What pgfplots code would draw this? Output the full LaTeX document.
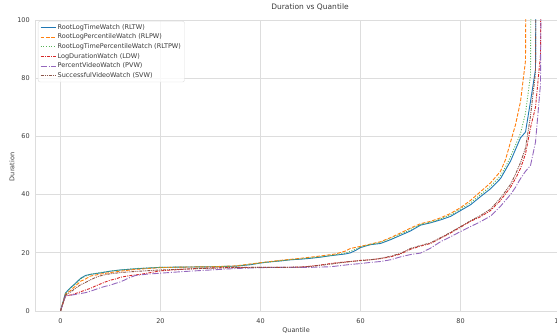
\documentclass[border=0pt]{standalone}
\usepackage{pgfplots}
\pgfplotsset{compat=1.18}
\usepackage{fontspec}
\setmainfont{DejaVu Sans}
\definecolor{gridc}{HTML}{DDDDDD}
\definecolor{txt}{HTML}{3A3A3A}
\definecolor{c1}{HTML}{1F77B4}
\definecolor{c2}{HTML}{FF7F0E}
\definecolor{c3}{HTML}{2CA02C}
\definecolor{c4}{HTML}{D62728}
\definecolor{c5}{HTML}{9467BD}
\definecolor{c6}{HTML}{8C564B}
\begin{document}
\begin{tikzpicture}
\begin{axis}[
  scale only axis, width=544.5pt, height=291pt,
  xmin=-4.95, xmax=103.95, ymin=0, ymax=100,
  xtick={0,20,...,100}, ytick={0,20,...,100},
  grid=major, major grid style={color=gridc, line width=0.6pt},
  axis line style={color=gridc, line width=0.6pt},
  major tick length=0pt,
  /pgf/number format/assume math mode=true,
  tick label style={font=\fontsize{6.5}{7}\selectfont, color=txt},
  xticklabel style={yshift=-4.3pt},
  yticklabel style={xshift=-2.5pt},
  title={Duration vs Quantile},
  title style={at={(axis description cs:0.5037,1.024)}, anchor=center, font=\fontsize{7.5}{8}\selectfont, color=txt},
  xlabel={Quantile},
  x label style={at={(axis description cs:0.478,-0.0653)}, anchor=center, font=\fontsize{6.5}{7}\selectfont, color=txt},
  ylabel={Duration},
  y label style={at={(axis description cs:-0.0436,0.495)}, anchor=center, rotate=0, font=\fontsize{6.5}{7}\selectfont, color=txt},
  legend cell align=left,
  legend image code/.code={\draw[#1] (0pt,0pt) -- (15pt,0pt);},
  legend style={at={(axis description cs:0.004,0.9966)}, anchor=north west,
    draw=gridc, rounded corners=2pt, fill=white, fill opacity=0.8, text opacity=1,
    font=\fontsize{6.5}{7}\selectfont, text=txt,
    nodes={inner sep=1.6pt}, row sep=0pt, inner xsep=2pt, inner ysep=1.5pt},
  every axis plot/.append style={line width=0.9pt},
]
\addplot[c1, solid] coordinates {
(0,0) (1,6.2) (2,8.0) (3,9.5) (4,11.2) (5,12.2) (6,12.6) (8,13.1) (10,13.7) (12,14.1)
(15,14.5) (18,14.8) (20,15.0) (25,15.1) (30,15.2) (35,15.4) (38,15.9) (40,16.5) (42,16.9)
(44,17.2) (46,17.6) (48,17.8) (50,18.1) (52,18.5) (54,19.0) (56,19.4) (57,19.6) (58,20.0)
(59,20.8) (60,21.8) (62,22.8) (64,23.2) (66,24.5) (68,26.0) (70,27.5) (72,29.5) (74,30.3)
(76,31.3) (78,32.5) (80,34.5) (82,36.5) (84,39.3) (86,42.0) (88,45.5) (89,48.5) (90,51.5)
(91,55.5) (92,59.5) (93,61.5) (94,72) (95,83) (96,400)
};
\addlegendentry{RootLogTimeWatch (RLTW)}
\addplot[c2, dash pattern=on 3.7pt off 1.6pt] coordinates {
(0,0) (1,5.8) (2,7.0) (3,8.6) (4,10.2) (5,11.0) (6,12.0) (8,12.7) (10,13.2) (12,13.7)
(15,14.3) (20,14.9) (25,15.1) (30,15.2) (35,15.5) (40,16.6) (44,17.4) (48,18.1) (52,18.9)
(55,19.6) (57,20.6) (58,21.5) (60,22.2) (62,23.0) (64,23.8) (66,25.2) (68,26.8) (70,28.5)
(72,30.0) (74,30.8) (76,32.0) (78,33.5) (80,35.5) (82,38.0) (84,41.0) (86,44.0) (88,48.0)
(89,52.0) (90,58.0) (91,64) (92,72) (93,86) (94,400)
};
\addlegendentry{RootLogPercentileWatch (RLPW)}
\addplot[c3!80!white, dash pattern=on 1pt off 1.65pt] coordinates {
(0,0) (1,6.0) (2,7.8) (3,9.3) (4,11.0) (5,12.0) (6,12.6) (8,13.2) (10,13.7) (12,14.1)
(15,14.6) (20,15.0) (25,15.1) (30,15.2) (35,15.4) (40,16.5) (44,17.3) (48,17.9) (52,18.6)
(55,19.3) (57,19.9) (58,20.5) (60,21.9) (62,22.9) (64,23.5) (66,24.8) (68,26.4) (70,28.0)
(72,29.7) (74,30.5) (76,31.6) (78,33.0) (80,35.0) (82,37.2) (84,40.0) (86,42.8) (88,46.5)
(89,49.5) (90,53) (91,57) (92,61) (93,68) (94,81) (95,400)
};
\addlegendentry{RootLogTimePercentileWatch (RLTPW)}
\addplot[c4, dash pattern=on 3pt off 1.2pt on 1pt off 1.2pt] coordinates {
(0,0) (1,5.2) (2,5.5) (3,6.0) (4,6.6) (5,7.2) (6,7.8) (7,8.6) (8,9.3) (9,10.0) (10,10.6)
(11,11.0) (12,11.6) (14,12.2) (16,12.6) (18,13.2) (20,13.8) (25,14.4) (30,14.8) (35,15.0)
(40,15.0) (45,15.0) (48,15.1) (50,15.4) (52,15.8) (54,16.3) (56,16.7) (58,17.0) (60,17.4)
(62,17.6) (64,18.0) (66,18.6) (68,19.6) (70,21.2) (72,22.3) (74,23.2) (76,25.0) (78,26.8)
(80,28.8) (82,30.8) (84,32.4) (86,34.5) (88,38.0) (90,42.5) (91,45.5) (92,49.0) (93,54.0)
(94,63) (95,70) (96,88) (97,400)
};
\addlegendentry{LogDurationWatch (LDW)}
\addplot[c5, dash pattern=on 6.4pt off 1.6pt on 1pt off 1.6pt] coordinates {
(0,0) (1,5.2) (2,5.4) (3,5.7) (4,6.0) (5,6.3) (6,6.8) (7,7.4) (8,8.0) (9,8.5) (10,8.9)
(11,9.5) (12,10.0) (13,10.8) (14,11.6) (15,12.2) (17,12.6) (20,13.0) (25,13.6) (30,14.1)
(35,14.6) (40,14.9) (45,15.0) (50,15.0) (52,15.1) (54,15.2) (56,15.6) (58,16.0) (60,16.3)
(62,16.7) (64,17.0) (66,17.6) (68,18.6) (70,19.4) (72,19.9) (74,21.6) (76,23.8) (78,25.5)
(80,27.3) (82,29.0) (84,30.7) (86,32.6) (88,36.0) (90,40.0) (91,42.5) (92,45.5) (93,48)
(94,50) (95,58) (96,78) (97,400)
};
\addlegendentry{PercentVideoWatch (PVW)}
\addplot[c6, dash pattern=on 3pt off 1pt on 1pt off 1pt on 1pt off 1pt] coordinates {
(0,0) (1,5.5) (2,6.5) (3,7.8) (4,9.0) (5,9.8) (6,10.7) (7,11.5) (8,12.1) (9,12.5) (10,12.8)
(12,13.2) (15,13.6) (20,14.1) (25,14.4) (30,14.7) (35,14.9) (40,15.0) (45,15.0) (48,15.1)
(50,15.3) (52,15.7) (54,16.1) (56,16.6) (58,17.0) (60,17.3) (62,17.6) (64,18.1) (66,18.8)
(68,19.8) (70,21.5) (72,22.5) (74,23.4) (76,25.2) (78,27.0) (80,29.0) (82,31.0) (84,32.8)
(86,35.0) (88,38.8) (90,43.5) (91,47) (92,51) (93,56) (94,67) (95,82) (96,400)
};
\addlegendentry{SuccessfulVideoWatch (SVW)}
\end{axis}
\pgfresetboundingbox
\useasboundingbox (-35.75pt,-25pt) rectangle (521.25pt,311pt);
\end{tikzpicture}
\end{document}
